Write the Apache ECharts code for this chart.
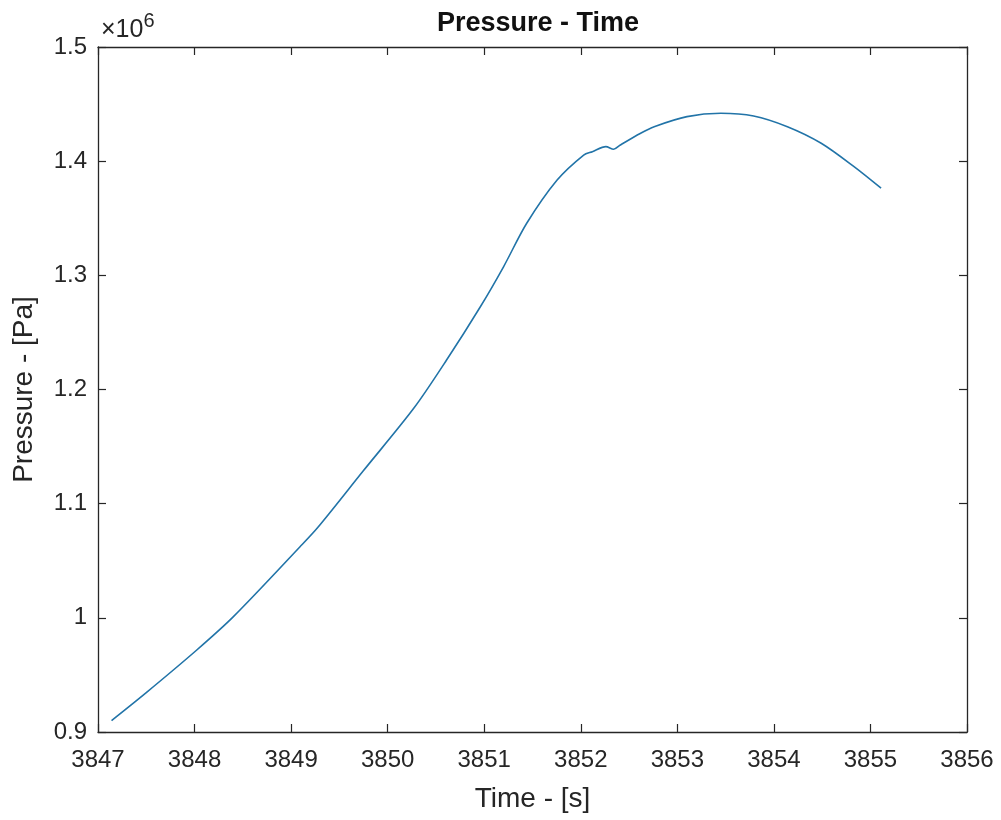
<!DOCTYPE html>
<html>
<head>
<meta charset="utf-8">
<script src="https://cdn.jsdelivr.net/npm/echarts@6/dist/echarts.min.js"></script>
<style>
  html, body { margin: 0; padding: 0; background: #ffffff; }
  #chart { width: 1001px; height: 820px; }
</style>
</head>
<body>
<div id="chart"></div>
<script>
// Time values [s]
const timeValues = [
  3847.14, 3847.50, 3848.02, 3848.40, 3849.09, 3849.28, 3849.75, 3850.27,
  3850.61, 3850.96, 3851.20, 3851.44, 3851.755, 3852.03, 3852.12, 3852.26,
  3852.34, 3852.41, 3852.62, 3852.76, 3853.10, 3853.45, 3853.79, 3854.14,
  3854.49, 3854.83, 3855.11
];
// Pressure values [Pa]
const pressureValues = [
  910000, 934500, 971600, 1000800, 1062000, 1079500, 1129000, 1183500,
  1225800, 1272500, 1307500, 1345600, 1383500, 1405400, 1408300, 1412700,
  1410400, 1414200, 1424500, 1430200, 1439000, 1442000, 1439600, 1430200,
  1415700, 1395200, 1376300
];
const xTickLabels = ['3847','3848','3849','3850','3851','3852','3853','3854','3855','3856'];
const yTickLabels = ['0.9','1','1.1','1.2','1.3','1.4','1.5'];

const seriesData = timeValues.map((t, i) => [t, pressureValues[i]]);

const textColor = '#262626';
const axisColor = '#262626';
const fontFamily = '"Liberation Sans", Arial, Helvetica, sans-serif';

const chart = echarts.init(document.getElementById('chart'), null, { renderer: 'canvas' });

const xTickFmt = v => {
  const idx = Math.round(v - 3847);
  return xTickLabels[idx] !== undefined ? xTickLabels[idx] : '';
};
const yTickFmt = v => {
  const idx = Math.round((v - 900000) / 100000);
  return yTickLabels[idx] !== undefined ? yTickLabels[idx] : '';
};

chart.setOption({
  backgroundColor: '#ffffff',
  animation: false,
  title: {
    text: 'Pressure - Time',
    left: 533,
    textAlign: 'center',
    top: 5,
    textStyle: { fontFamily, fontSize: 27, fontWeight: 'bold', color: '#111111' }
  },
  grid: { left: 98, right: 34, top: 47, bottom: 88, containLabel: false },
  xAxis: [
    {
      type: 'value', min: 3847, max: 3856, interval: 1, position: 'bottom',
      name: 'Time - [s]', nameLocation: 'middle', nameGap: 53,
      nameTextStyle: { fontFamily, fontSize: 28, color: textColor },
      axisLine: { show: true, onZero: false, lineStyle: { color: axisColor, width: 1.3 } },
      axisTick: { show: true, inside: true, length: 8, lineStyle: { color: axisColor, width: 1.2 } },
      axisLabel: { fontFamily, fontSize: 24, color: textColor, margin: 16, formatter: xTickFmt },
      splitLine: { show: false }
    },
    {
      type: 'value', min: 3847, max: 3856, interval: 1, position: 'top',
      axisLine: { show: true, onZero: false, lineStyle: { color: axisColor, width: 1.3 } },
      axisTick: { show: true, inside: true, length: 8, lineStyle: { color: axisColor, width: 1.2 } },
      axisLabel: { show: false },
      splitLine: { show: false }
    }
  ],
  yAxis: [
    {
      type: 'value', min: 900000, max: 1500000, interval: 100000, position: 'left',
      name: 'Pressure - [Pa]', nameLocation: 'middle', nameGap: 60, nameRotate: 90,
      nameTextStyle: { fontFamily, fontSize: 28, color: textColor },
      axisLine: { show: true, onZero: false, lineStyle: { color: axisColor, width: 1.3 } },
      axisTick: { show: true, inside: true, length: 8, lineStyle: { color: axisColor, width: 1.2 } },
      axisLabel: { fontFamily, fontSize: 24, color: textColor, margin: 11, formatter: yTickFmt },
      splitLine: { show: false }
    },
    {
      type: 'value', min: 900000, max: 1500000, interval: 100000, position: 'right',
      axisLine: { show: true, onZero: false, lineStyle: { color: axisColor, width: 1.3 } },
      axisTick: { show: true, inside: true, length: 8, lineStyle: { color: axisColor, width: 1.2 } },
      axisLabel: { show: false },
      splitLine: { show: false }
    }
  ],
  graphic: [
    {
      type: 'text',
      left: 101,
      top: 11,
      style: {
        text: '{a|×10}{b|6}',
        rich: {
          a: { fontFamily, fontSize: 25, fill: textColor, verticalAlign: 'bottom', lineHeight: 32 },
          b: { fontFamily, fontSize: 20, fill: textColor, verticalAlign: 'top', lineHeight: 32, padding: [0, 0, 16, 0] }
        }
      }
    }
  ],
  series: [
    {
      type: 'line',
      data: seriesData,
      xAxisIndex: 0,
      yAxisIndex: 0,
      showSymbol: false,
      smooth: 0.3,
      lineStyle: { color: '#2274a8', width: 1.6 }
    }
  ]
});
</script>
</body>
</html>
